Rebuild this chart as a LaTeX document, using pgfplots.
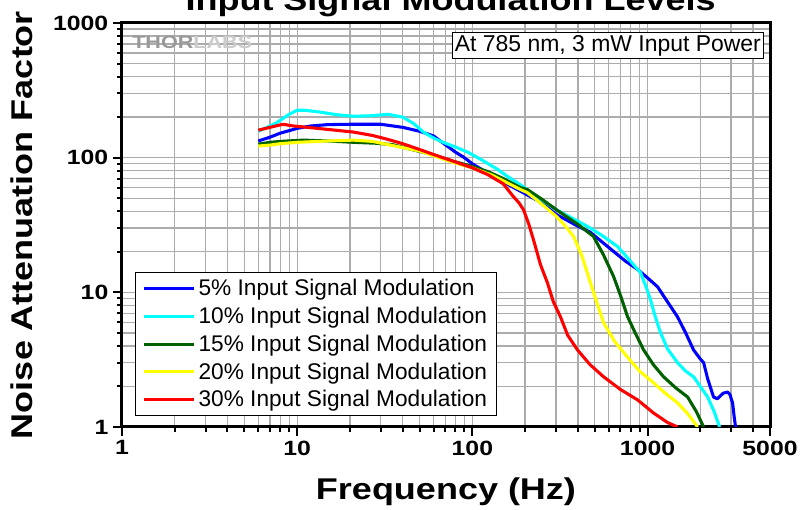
\documentclass[border=0pt]{standalone}
\usepackage{pgfplots}
\pgfplotsset{compat=1.18}
\usepackage{fontspec}
\setmainfont{Liberation Sans}
\newfontfamily\widefont[FakeStretch=1.2]{Liberation Sans}

\definecolor{cblue}{RGB}{0,0,255}
\definecolor{ccyan}{RGB}{0,255,255}
\definecolor{dkgreen}{RGB}{0,96,0}
\definecolor{cyellow}{RGB}{255,255,0}
\definecolor{cred}{RGB}{255,0,0}
\definecolor{gridgray}{RGB}{172,172,172}

\begin{document}
\begin{tikzpicture}
\begin{axis}[
  scale only axis, width=486pt, height=303pt,
  at={(0,0)}, anchor=south west,
  xmode=log, ymode=log,
  xmin=1, xmax=5000, ymin=1, ymax=1000,
  xtick={1,10,100,1000,5000}, xticklabels={1,10,100,1000,5000},
  minor xtick={2,3,4,5,6,7,8,9,20,30,40,50,60,70,80,90,200,300,400,500,600,700,800,900,2000,3000,4000},
  ytick={1,10,100,1000}, yticklabels={1,10,100,1000},
  minor ytick={2,3,4,5,6,7,8,9,20,30,40,50,60,70,80,90,200,300,400,500,600,700,800,900},
  grid=both,
  major grid style={gridgray, line width=1pt},
  minor grid style={gridgray, line width=1pt},
  axis line style={line width=2.25pt},
  tick align=outside, xtick pos=bottom, ytick pos=left,
  major tick length=6.75pt, minor tick length=3.75pt,
  every tick/.style={black, line width=1.5pt},
  ticklabel style={font=\widefont\bfseries\fontsize{15.5}{16}\selectfont},
  xlabel={Frequency (Hz)}, ylabel={Noise Attenuation Factor},
  label style={font=\widefont\bfseries\fontsize{22.5}{26}\selectfont},
  xlabel style={at={([yshift=-54.75pt]axis description cs:0.5,0)}, anchor=base},
  ylabel style={at={([xshift=-66.75pt]axis description cs:0,0.5)}, anchor=base, rotate=0},
  legend style={at={(0.0201,0.0272)}, anchor=south west, draw=black, line width=0.75pt,
    font=\fontsize{17}{20}\selectfont, row sep=3pt, inner xsep=5pt, inner ysep=3pt},
  legend cell align=left,
  legend image code/.code={\draw[#1, line width=2.3pt] (0pt,0pt) -- (38pt,0pt);},
  every axis plot/.append style={line width=2.3pt, line join=round},
]
\addplot[cblue] coordinates {
(6,133) (7,142) (8,152) (10,165) (12,172) (15,176) (20,177) (30,177) (40,168)
(50,157) (60,145) (70,125) (80,110) (90,100) (100,90) (120,78) (150,66) (200,54)
(250,46) (300,38) (400,31) (470,28) (615,21) (750,17) (877,14.8) (1000,12.8)
(1140,11) (1300,8.5) (1480,6.6) (1650,5) (1830,3.74) (2000,3.2) (2090,3.0)
(2200,2.3) (2380,1.67) (2500,1.62) (2700,1.78) (2860,1.82) (2950,1.75)
(3060,1.5) (3120,1.2) (3180,1.0)};
\addlegendentry{5\% Input Signal Modulation}
\addplot[ccyan] coordinates {
(6,157) (7,172) (7.7,183) (9,210) (10,225) (11,225) (13.5,218) (17,208) (21,203)
(27,205) (33,210) (40,200) (46,180) (52.5,155) (60,140) (68,130) (80,120) (94,110)
(115,95) (139,82) (160,72) (188,63) (230,52) (302,41) (380,35) (472,30) (560,26)
(674,21.9) (800,17) (912,14) (980,11) (1040,8.8) (1110,6.5) (1187,5.0) (1300,3.8)
(1484,3.0) (1650,2.6) (1831,2.36) (2000,2.0) (2203,1.67) (2400,1.3) (2578,1.0)};
\addlegendentry{10\% Input Signal Modulation}
\addplot[dkgreen] coordinates {
(6,126) (7,130) (8,132) (10.8,135) (15,133) (20.9,130) (28,128) (35,125) (45,115)
(60,105) (78,94) (100,86) (122,79) (150,70) (188,60) (206,58) (250,49) (302,41)
(400,32) (491,26) (560,19) (640,13.1) (700,9.5) (769,6.6) (850,5) (949,3.74)
(1080,2.9) (1234,2.36) (1450,1.95) (1693,1.67) (1900,1.3) (2089,1.0)};
\addlegendentry{15\% Input Signal Modulation}
\addplot[cyellow] coordinates {
(6,122) (7,124) (8,127) (10,130) (15,133) (21,135) (27,132) (33,125) (50,112)
(78,92) (100,84) (130,74) (188,58) (206,55) (250,45) (302,36.6) (340,31) (378,26)
(420,19) (472,11.8) (520,8) (561,5.95) (650,4.3) (769,3.3) (900,2.6) (1082,2.13)
(1250,1.8) (1484,1.51) (1700,1.25) (1931,1.0)};
\addlegendentry{20\% Input Signal Modulation}
\addplot[cred] coordinates {
(6,160) (7,168) (8.3,177) (9.5,172) (11.4,168) (15,162) (20.9,155) (27,146)
(32.7,137) (40,127) (50,115) (62,104) (78,94) (100,84) (122,75) (150,64)
(171,51.6) (185,46) (196,41) (210,32) (223,24.7) (245,16) (268,11.8) (290,8.5)
(318,6.6) (350,4.8) (398,3.74) (470,2.9) (561,2.36) (700,1.9) (877,1.59)
(1082,1.27) (1300,1.08) (1484,1.0)};
\addlegendentry{30\% Input Signal Modulation}
\node[draw=black, line width=0.75pt, fill=white, anchor=north east, inner sep=2pt,
  font=\fontsize{17.2}{20}\selectfont]
  at ([xshift=-4.5pt,yshift=-6.75pt]rel axis cs:1,1) {At 785 nm, 3 mW Input Power};
\node[anchor=west, inner sep=0pt, font=\widefont\bfseries\fontsize{13.5}{14}\selectfont]
  at ([xshift=7.5pt,yshift=-14.6pt]rel axis cs:0,1)
  {\textcolor{gray!80}{THOR}\textcolor{gray!40}{LABS}};
\end{axis}
\node[anchor=base, font=\widefont\bfseries\fontsize{22.5}{26}\selectfont]
  at (246.4pt,312pt) {Input Signal Modulation Levels};
\pgfresetboundingbox
\path[use as bounding box] (-91.5pt,-62.25pt) rectangle (509.25pt,320.25pt);
\end{tikzpicture}
\end{document}
